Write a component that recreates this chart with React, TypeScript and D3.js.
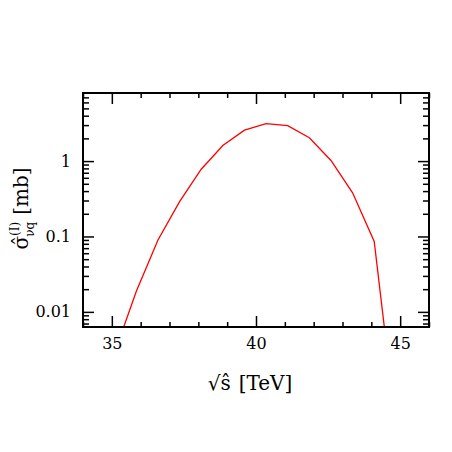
import React, { useEffect, useRef } from 'react';
import * as d3 from 'd3';

// sqrt(s-hat) in TeV and cross section in mb
const energies = [35.1, 35.85, 36.6, 37.35, 38.1, 38.85, 39.6, 40.35, 41.1, 41.85, 42.6, 43.35, 44.1, 44.85];
const sigma = [0.0029, 0.0188, 0.09, 0.29, 0.78, 1.61, 2.57, 3.13, 2.95, 2.04, 1.02, 0.38, 0.086, 0.00032];
const xMajorTicks = [35, 40, 45];
const yMajorTicks = [0.01, 0.1, 1];
const yTickLabels = ['0.01', '0.1', '1'];

const App = () => {
    const svgRef = useRef<SVGSVGElement>(null);

    useEffect(() => {
        const svg = d3.select(svgRef.current);
        svg.selectAll('*').remove();

        const margin = { top: 93, right: 23, bottom: 125, left: 83 };
        const width = 452 - margin.left - margin.right;
        const height = 452 - margin.top - margin.bottom;

        const x = d3.scaleLinear().domain([34, 46]).range([0, width]);
        const y = d3.scaleLog().domain([0.0063, 8]).range([height, 0]);

        const xMinor = d3.range(34, 46.01, 1).filter(v => !xMajorTicks.includes(v));
        const yMinor: number[] = [];
        [0.001, 0.01, 0.1, 1].forEach(d => {
            for (let k = 2; k <= 9; k++) {
                const v = d * k;
                if (v > 0.0063 && v < 8) yMinor.push(v);
            }
        });

        const g = svg.append('g').attr('transform', `translate(${margin.left},${margin.top})`);

        g.append('clipPath').attr('id', 'clip')
            .append('rect').attr('width', width).attr('height', height);

        const font = '"DejaVu Serif", serif';

        const axis = (gen: any, tx: number, ty: number, label: boolean) => {
            const a = g.append('g').attr('transform', `translate(${tx},${ty})`).call(gen);
            a.select('.domain').remove();
            a.selectAll('line').attr('stroke', '#000').attr('stroke-width', 1.5);
            if (label) {
                a.selectAll('text').attr('font-family', font).attr('font-size', 16).attr('fill', '#000');
            } else {
                a.selectAll('text').remove();
            }
            return a;
        };

        // x axes (bottom + mirrored top)
        axis(d3.axisBottom(x).tickValues(xMajorTicks).tickSize(-11).tickPadding(11).tickFormat(d3.format('d')), 0, height, true);
        axis(d3.axisBottom(x).tickValues(xMinor).tickSize(-5).tickFormat(() => ''), 0, height, false);
        axis(d3.axisTop(x).tickValues(xMajorTicks).tickSize(-11), 0, 0, false);
        axis(d3.axisTop(x).tickValues(xMinor).tickSize(-5), 0, 0, false);

        // y axes (left + mirrored right)
        axis(d3.axisLeft(y).tickValues(yMajorTicks).tickSize(-11).tickPadding(12)
            .tickFormat((d, i) => yTickLabels[i]), 0, 0, true);
        axis(d3.axisLeft(y).tickValues(yMinor).tickSize(-6), 0, 0, false);
        axis(d3.axisRight(y).tickValues(yMajorTicks).tickSize(-11), width, 0, false);
        axis(d3.axisRight(y).tickValues(yMinor).tickSize(-6), width, 0, false);

        // curve
        const line = d3.line<number>()
            .x((d, i) => x(energies[i]))
            .y(d => y(d));
        g.append('path')
            .datum(sigma)
            .attr('clip-path', 'url(#clip)')
            .attr('fill', 'none')
            .attr('stroke', '#ff0000')
            .attr('stroke-width', 1.3)
            .attr('d', line);

        // frame
        g.append('rect')
            .attr('width', width).attr('height', height)
            .attr('fill', 'none').attr('stroke', '#000').attr('stroke-width', 2);

        // x label
        const xl = g.append('text')
            .attr('x', width / 2 - 6).attr('y', height + 63)
            .attr('text-anchor', 'middle')
            .attr('font-family', font).attr('font-size', 20).attr('fill', '#000');
        xl.append('tspan').text('\u221As\u0302');
        xl.append('tspan').attr('dx', 8).text('[TeV]');

        // y label
        const yl = g.append('text')
            .attr('transform', `translate(-55,${y(0.1) - 28}) rotate(-90)`)
            .attr('text-anchor', 'middle')
            .attr('font-family', font).attr('font-size', 20).attr('fill', '#000');
        yl.append('tspan').text('\u03C3\u0302');
        yl.append('tspan').attr('font-size', 12).attr('dy', -9).text('(I)');
        yl.append('tspan').attr('font-size', 12).attr('dx', -15).attr('dy', 15).text('\u03BDq');
        yl.append('tspan').attr('dy', -6).attr('dx', 7).text('[mb]');
    }, []);

    return (
        <svg ref={svgRef} width={452} height={452}
            style={{ position: 'absolute', left: 0, top: 0, background: '#fff' }} />
    );
};

export default App;
